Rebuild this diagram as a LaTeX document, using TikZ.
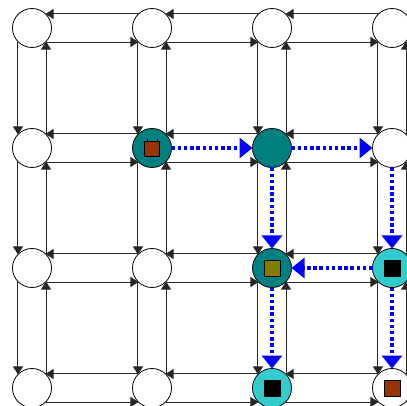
\documentclass[tikz,border=0pt]{standalone}
\usetikzlibrary{arrows.meta}
\definecolor{nodeteal}{HTML}{008080}
\definecolor{nodeturq}{HTML}{33CCCC}
\definecolor{boxbrown}{HTML}{993300}
\definecolor{boxolive}{HTML}{808000}
\definecolor{pathblue}{HTML}{0000FF}
\begin{document}
\begin{tikzpicture}[x=1pt,y=-1pt,
  cell/.style={circle,draw=black,line width=0.8pt,fill=white,minimum size=39pt,inner sep=0pt,outer sep=0pt},
  link/.style={draw=black!85,line width=1pt,-{Triangle[length=8pt,width=10pt]}},
  route/.style={draw=pathblue,line width=4pt,dash pattern=on 3.5pt off 2.7pt,-{Triangle[length=13pt,width=20pt]}},
  token/.style={draw=black,line width=0.6pt,minimum size=15pt,inner sep=0pt,outer sep=0pt},
  % fills of the occupied cells
  fill-1-1/.style={fill=nodeteal},
  fill-2-1/.style={fill=nodeteal},
  fill-2-2/.style={fill=nodeteal},
  fill-3-2/.style={fill=nodeturq},
  fill-2-3/.style={fill=nodeturq}
]
\useasboundingbox (0,0) rectangle (407,406);
\clip (0,0) rectangle (407,406);

% grid of cells
\foreach \c in {0,...,3}
  \foreach \r in {0,...,3}
    \node[cell,fill-\c-\r/.try] (n-\c-\r) at (32+120*\c,28+120*\r) {};

% horizontal channel pairs
\foreach \r in {0,...,3}
  \foreach \c/\d in {0/1,1/2,2/3} {
    \draw[link] (n-\d-\r.134) -- (n-\c-\r.46);
    \draw[link] (n-\c-\r.-46) -- (n-\d-\r.-134);
  }
% vertical channel pairs
\foreach \c in {0,...,3}
  \foreach \r/\s in {0/1,1/2,2/3} {
    \draw[link] (n-\c-\r.224) -- (n-\c-\s.136);
    \draw[link] (n-\c-\s.44) -- (n-\c-\r.-44);
  }

% routed path
\draw[route] (n-1-1) -- (n-2-1);
\draw[route] (n-2-1) -- (n-3-1);
\draw[route] (n-2-1) -- (n-2-2);
\draw[route] (n-3-1) -- (n-3-2);
\draw[route] (n-3-2) -- (n-2-2);
\draw[route] (n-2-2) -- (n-2-3);
\draw[route] (n-3-2) -- (n-3-3);

% tokens
\node[token,fill=boxbrown] (t-src) at ([shift={(0,1)}]n-1-1.center) {};
\draw[line width=0.8pt] ([shift={(-5,-6.5)}]n-1-1.center) -- ++(0,-2);
\draw[line width=0.8pt] ([shift={(5,-6.5)}]n-1-1.center) -- ++(0,-2);
\node[token,fill=boxolive,minimum size=16pt] (t-mid) at (n-2-2) {};
\node[token,fill=black,minimum size=16pt] (t-a) at (n-3-2) {};
\node[token,fill=black,minimum size=16pt] (t-b) at (n-2-3) {};
\node[token,fill=boxbrown,minimum size=16pt] (t-dst) at (n-3-3) {};
\end{tikzpicture}
\end{document}
